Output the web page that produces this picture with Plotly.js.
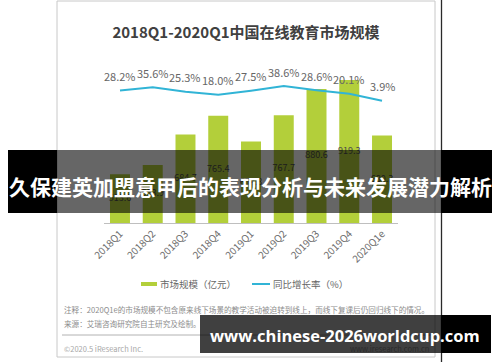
<!DOCTYPE html>
<html>
<head>
<meta charset="utf-8">
<script src="https://cdn.plot.ly/plotly-3.0.1.min.js"></script>
<style>html,body{margin:0;padding:0;background:#fff;}#chart{width:500px;height:362px;}</style>
</head>
<body>
<div id="chart"></div>
<script>
// ---- data ----
const categories = ['2018Q1','2018Q2','2018Q3','2018Q4','2019Q1','2019Q2','2019Q3','2019Q4','2020Q1e'];
const marketSize = [513.6, 553.9, 684.7, 765.4, 654.8, 767.7, 880.6, 919.3, 680.3];
const growthRate = [28.2, 35.6, 25.3, 18.0, 27.5, 38.6, 28.6, 20.1, 3.9];
const titleText = '2018Q1-2020Q1中国在线教育市场规模';
const legendBar = '市场规模（亿元）';
const legendLine = '同比增长率（%）';
const noteText = '注释：2020Q1e的市场规模不包含原来线下场景的教学活动被迫转到线上，而线下复课后仍回归线下的情况。';
const sourceText = '来源：艾瑞咨询研究院自主研究及绘制。';
const copyText = '©2020.5 iResearch Inc.';
const siteText = 'www.iresearch.com.cn';
const bannerText = '久保建英加盟意甲后的表现分析与未来发展潜力解析';
const footerBanner = 'www.chinese-2026worldcup.com';

// ---- layout helpers ----
const W = 500, H = 362;
const px = x => x / W;
const py = y => 1 - y / H;
const Y_MIN = 304.5, Y_MAX = 1005.3;
const FONT = '"Noto Sans CJK SC", "Noto Sans", sans-serif';

const barTrace = {
  type: 'bar', x: categories, y: marketSize, name: legendBar,
  marker: {color: '#b3cf3a'}, hoverinfo: 'x+y'
};
const barLabels = {
  type: 'scatter', mode: 'text', x: categories,
  y: marketSize.map(v => (v + Y_MIN) / 2),
  text: marketSize.map(v => v.toFixed(1)),
  textposition: 'middle center',
  textfont: {size: 9, color: '#4a4a4a', family: FONT},
  hoverinfo: 'skip', showlegend: false
};
const lineTrace = {
  type: 'scatter', mode: 'lines', x: categories, y: growthRate, yaxis: 'y2',
  name: legendLine, line: {color: '#31b4d6', width: 2}
};

const annotations = growthRate.map((g, i) => ({
  xref: 'x', yref: 'y2', x: categories[i], y: g, yshift: 14.5,
  text: g.toFixed(1) + '%', showarrow: false,
  font: {size: 11, color: '#666666', family: FONT}
}));

// legend texts
annotations.push({xref:'paper', yref:'paper', x: px(158), y: py(284), xanchor:'left', yanchor:'middle',
  text: legendBar, showarrow:false, font:{size:9.5, color:'#666', family: FONT}});
annotations.push({xref:'paper', yref:'paper', x: px(271), y: py(284), xanchor:'left', yanchor:'middle',
  text: legendLine, showarrow:false, font:{size:9.5, color:'#666', family: FONT}});
// notes
annotations.push({xref:'paper', yref:'paper', x: px(62), y: py(309), xanchor:'left', yanchor:'middle',
  text: noteText, showarrow:false, font:{size:7.6, color:'#8c8c8c', family: FONT}});
annotations.push({xref:'paper', yref:'paper', x: px(62), y: py(323), xanchor:'left', yanchor:'middle',
  text: sourceText, showarrow:false, font:{size:7.6, color:'#8c8c8c', family: FONT}});
annotations.push({xref:'paper', yref:'paper', x: px(62), y: py(348), xanchor:'left', yanchor:'middle',
  text: copyText, showarrow:false, font:{size:7.5, color:'#a8a8a8', family: FONT}});
annotations.push({xref:'paper', yref:'paper', x: px(431), y: py(348), xanchor:'right', yanchor:'middle',
  text: siteText, showarrow:false, font:{size:7.5, color:'#a8a8a8', family: FONT}});
// overlay banners (drawn last)
annotations.push({xref:'paper', yref:'paper', x: px(57), y: py(181.5), xanchor:'left', yanchor:'middle',
  width: 384, height: 63, text: '', showarrow:false, bgcolor:'rgba(0,0,0,0.6)', borderwidth:0, borderpad:0});
annotations.push({xref:'paper', yref:'paper', x: px(250), y: py(186), xanchor:'center', yanchor:'middle',
  text: bannerText, showarrow:false, borderwidth:0, borderpad:0,
  font:{size:21, color:'#ffffff', family: '"Noto Sans CJK SC", sans-serif', weight: 700}});
annotations.push({xref:'paper', yref:'paper', x: px(200), y: py(334), xanchor:'left', yanchor:'middle',
  width: 241, height: 38, text: '', showarrow:false, bgcolor:'rgba(0,0,0,0.75)', borderwidth:0, borderpad:0});
annotations.push({xref:'paper', yref:'paper', x: px(345), y: py(335), xanchor:'center', yanchor:'middle',
  text: footerBanner, showarrow:false, borderwidth:0, borderpad:0,
  font:{size:16.5, color:'#ffffff', family: '"Open Sans", sans-serif', weight: 700}});

const shapes = [
  // card border
  {type:'rect', xref:'paper', yref:'paper', x0: px(57), x1: px(435), y0: py(357), y1: py(1),
   line:{color:'#c8c8c8', width:1}, fillcolor:'rgba(0,0,0,0)', layer:'below'},
  // dark right line
  {type:'line', xref:'paper', yref:'paper', x0: px(441.5), x1: px(441.5), y0: 0, y1: 1,
   line:{color:'#2a2a2a', width:1.3}, layer:'below'},
  // separator
  {type:'line', xref:'paper', yref:'paper', x0: px(62), x1: px(431), y0: py(335), y1: py(335),
   line:{color:'#a0a0a0', width:0.8}, layer:'below'},
  // legend symbols
  {type:'rect', xref:'paper', yref:'paper', x0: px(141), x1: px(157), y0: py(286), y1: py(282),
   line:{width:0}, fillcolor:'#b3cf3a', layer:'above'},
  {type:'line', xref:'paper', yref:'paper', x0: px(252), x1: px(270), y0: py(284), y1: py(284),
   line:{color:'#31b4d6', width:2}, layer:'above'},
  // opaque black parts of banners
  {type:'rect', xref:'paper', yref:'paper', x0: px(8), x1: px(57), y0: py(213), y1: py(150),
   line:{width:0}, fillcolor:'#000', layer:'above'},
  {type:'rect', xref:'paper', yref:'paper', x0: px(441), x1: px(492), y0: py(213), y1: py(150),
   line:{width:0}, fillcolor:'#000', layer:'above'},
  {type:'rect', xref:'paper', yref:'paper', x0: px(441), x1: px(491), y0: py(353), y1: py(315),
   line:{width:0}, fillcolor:'#000', layer:'above'}
];

const layout = {
  width: W, height: H,
  margin: {l:0, r:0, t:0, b:0},
  paper_bgcolor: '#ffffff', plot_bgcolor: 'rgba(0,0,0,0)',
  font: {family: FONT, color: '#666'},
  showlegend: false,
  bargap: 0.39,
  title: {text: titleText, x: px(246), y: py(33), xref:'paper', yref:'paper', xanchor:'center', yanchor:'middle',
    font: {size: 15, color: '#404040', family: FONT, weight: 700}},
  xaxis: {domain: [px(103.6), px(398.4)], type:'category', range:[-0.5, 8.5],
    showline: true, linecolor:'#bfbfbf', linewidth: 1, ticks:'', showgrid:false, zeroline:false,
    tickangle: -45, tickfont: {size: 10, color:'#6e6e6e', family: FONT}, fixedrange: true},
  yaxis: {domain: [py(223), py(60)], range:[Y_MIN, Y_MAX], visible:false, fixedrange:true},
  yaxis2: {domain: [py(223), py(60)], overlaying:'y', range:[-284.7, 100], visible:false, fixedrange:true},
  annotations: annotations,
  shapes: shapes
};

Plotly.newPlot('chart', [barTrace, barLabels, lineTrace], layout, {displayModeBar:false, staticPlot:true});
</script>
</body>
</html>
